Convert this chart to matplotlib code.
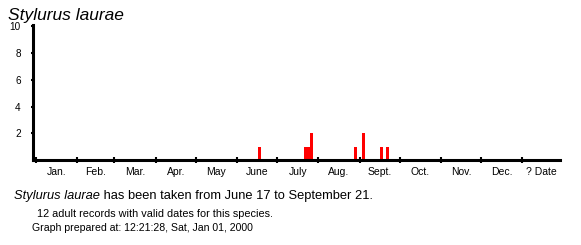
import datetime
import matplotlib
matplotlib.use("Agg")
import matplotlib.pyplot as plt

# Records: (month, day) and number of adult records on that date
rec_dates = [(6, 17), (7, 21), (7, 22), (7, 23), (7, 24), (7, 26),
             (8, 28), (9, 3), (9, 16), (9, 21)]
rec_counts = [1, 1, 1, 1, 1, 2, 1, 2, 1, 1]

month_labels = ["Jan.", "Feb.", "Mar.", "Apr.", "May", "June", "July",
                "Aug.", "Sept.", "Oct.", "Nov.", "Dec.", "? Date"]
month_days = [31, 28, 31, 30, 31, 30, 31, 31, 30, 31, 30, 31, 28]
y_ticks = [2, 4, 6, 8, 10]

species = "Stylurus laurae"
summary = " has been taken from June 17 to September 21."
records_line = "12 adult records with valid dates for this species."
prepared_line = "Graph prepared at: 12:21:28, Sat, Jan 01, 2000"

plt.rcParams["font.family"] = ["Liberation Sans", "DejaVu Sans"]

W, H = 581, 245
fig = plt.figure(figsize=(W / 100, H / 100), dpi=100)
ax = fig.add_axes([33 / W, 1 - 160 / H, (560 - 33) / W, (160 - 25) / H])

# day of year (Jan 1 = 0), non-leap year
days = [datetime.date(2001, m, d).timetuple().tm_yday - 1 for m, d in rec_dates]
ax.bar(days, rec_counts, width=2.25, align="edge", color="#ff0000", zorder=1)

starts = [0]
for n in month_days:
    starts.append(starts[-1] + n)
mids = [(a + b) / 2 for a, b in zip(starts[:-1], starts[1:])]

ax.set_xlim(-2, 393.2)
ax.set_ylim(0, 10.1)
ax.set_xticks(starts[:-1])
ax.set_xticklabels([])
ax.set_xticks(mids, minor=True)
ax.set_xticklabels(month_labels, minor=True, fontsize=7.5)
ax.set_yticks(y_ticks)
ax.set_yticklabels([str(v) for v in y_ticks], fontsize=7.2)

ax.tick_params(axis="x", which="major", direction="inout", length=5, width=1.5)
ax.tick_params(axis="x", which="minor", length=0, pad=5)
ax.tick_params(axis="y", direction="inout", length=3.5, width=1.5, pad=7)

for s in ["top", "right"]:
    ax.spines[s].set_visible(False)
for s in ["left", "bottom"]:
    ax.spines[s].set_linewidth(2.2)
    ax.spines[s].set_zorder(3)

fig.text(8 / W, 1 - 20 / H, species, fontsize=12.5, style="italic")

t1 = fig.text(14 / W, 1 - 199 / H, species, fontsize=9.3, style="italic")
ax.annotate(summary, xy=(1, 0), xycoords=t1, va="bottom", ha="left",
            fontsize=9.3)

fig.text(37 / W, 1 - 217 / H, records_line, fontsize=7.8)
fig.text(32 / W, 1 - 231 / H, prepared_line, fontsize=7.6)

fig.savefig("out.png", dpi=100)
